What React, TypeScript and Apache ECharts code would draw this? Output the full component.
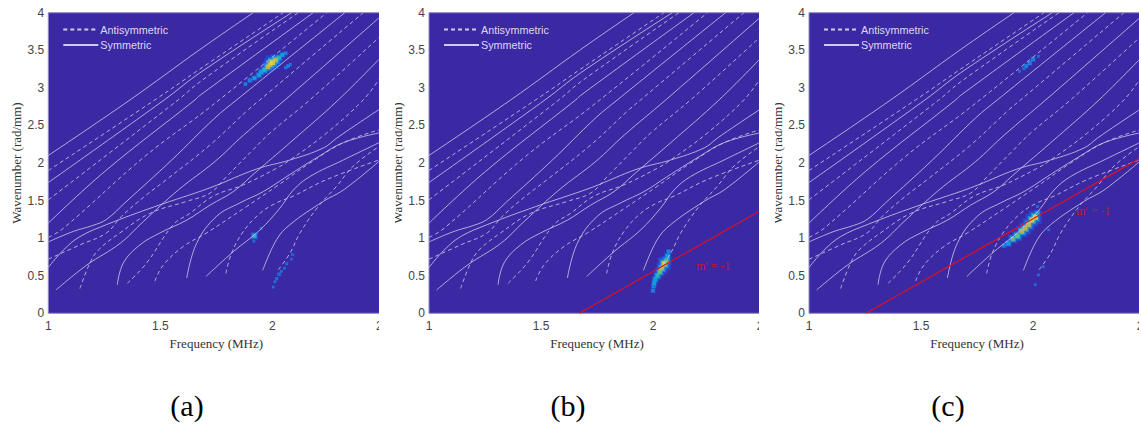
import React, { useEffect, useRef } from "react";
import * as echarts from "echarts";

// Symmetric modes: [frequency MHz, wavenumber rad/mm]
const symmetricModes: number[][][] = [
  [[1,2.1],[1.365,2.84],[1.677,3.51],[1.915,4]],
  [[1,1.74],[1.518,2.84],[1.677,3.2],[2.086,4]],
  [[1,1.2],[1.253,1.89],[1.655,2.84],[1.677,2.9],[2.183,4]],
  [[1,.95],[1.112,1.09],[1.2,1.17],[1.26,1.25],[1.342,1.47],[1.551,2.04],[1.744,2.6],[1.841,2.84],[2.324,4]],
  [[1,.61],[1.067,.84],[1.141,1.02],[1.26,1.18],[1.476,1.42],[1.722,1.67],[1.93,1.92],[2.079,2.04],[2.228,2.2],[2.287,2.33],[2.38,2.52],[2.476,2.71]],
  [[1.034,.31],[1.171,.64],[1.32,.93],[1.424,1.22],[1.58,1.64],[1.744,2.02],[1.871,2.37],[2.057,2.84],[2.476,3.93]],
  [[1.308,.38],[1.335,.67],[1.409,.91],[1.499,1.07],[1.618,1.24],[1.722,1.44],[1.826,1.62],[1.923,1.87],[2.079,2.27],[2.295,2.84],[2.476,3.38]],
  [[1.618,.47],[1.662,.93],[1.751,1.29],[1.856,1.47],[1.96,1.62],[2.064,1.82],[2.198,2.07],[2.317,2.27],[2.476,2.4]],
  [[1.704,.49],[1.826,.82],[1.945,1.11],[2.034,1.4],[2.094,1.64],[2.168,1.82],[2.317,2.04],[2.476,2.27]],
  [[1.957,.57],[2.019,.98],[2.079,1.18],[2.228,1.49],[2.317,1.64],[2.476,2.02]],
];

// Antisymmetric modes
const antisymmetricModes: number[][][] = [
  [[1,1.9],[1.476,2.84],[1.677,3.25],[2.049,4]],
  [[1,1.51],[1.58,2.84],[1.677,3.08],[2.116,4]],
  [[1,1.01],[1.067,1.13],[1.432,2.09],[1.729,2.76],[2.243,4]],
  [[1,.72],[1.141,.91],[1.26,1.07],[1.327,1.29],[1.432,1.56],[1.528,1.78],[1.722,2.24],[1.893,2.71],[1.945,2.84],[2.406,4]],
  [[1.141,.33],[1.186,.67],[1.223,.84],[1.32,1.07],[1.454,1.33],[1.618,1.49],[1.722,1.6],[1.796,1.82],[1.915,2.18],[1.99,2.4],[2.168,2.84],[2.476,3.67]],
  [[1.353,.4],[1.439,.67],[1.558,1.18],[1.632,1.33],[1.737,1.56],[1.871,1.71],[2.019,1.93],[2.079,2.04],[2.243,2.4],[2.406,2.84],[2.476,3.11]],
  [[1.476,.43],[1.513,.64],[1.603,.89],[1.707,1.07],[1.885,1.42],[2.019,1.69],[2.168,2],[2.317,2.27],[2.476,2.44]],
  [[1.793,.53],[1.818,.8],[1.871,1.09],[1.945,1.33],[2.019,1.47],[2.094,1.56],[2.243,1.78],[2.476,2.04]],
  [[2.027,.58],[2.079,.8],[2.124,1.07],[2.205,1.42],[2.287,1.69],[2.362,1.96],[2.476,2.22]],
];

// Energy spots: [frequency, wavenumber, relative intensity]
const spotsA: number[][] = [
  [1.88,3.05,.15],[1.9,3.1,.25],[1.92,3.13,.3],[1.94,3.17,.35],[1.95,3.21,.4],[1.965,3.24,.5],[1.98,3.28,.75],[1.99,3.31,.85],[2,3.34,1],[2.015,3.37,.8],[2.03,3.4,.45],[2.045,3.44,.3],[2.06,3.46,.15],
  [2.06,3.27,.1],[2.07,3.29,.15],[2.08,3.31,.1],
  [1.92,1.03,.45],[1.918,.96,.05],[1.95,1.13,.05],
  [2.004,.35,.05],[2.012,.42,.06],[2.02,.46,.1],[2.03,.52,.12],[2.04,.56,.06],[2.055,.6,.04],[2.065,.66,.05],[2.085,.72,.03],[2.09,.78,.03],
];
const spotsB: number[][] = [
  [2,.3,.2],[2.003,.36,.25],[2.005,.4,.3],[2.01,.45,.4],[2.02,.5,.5],[2.03,.55,.6],[2.04,.6,.75],[2.05,.66,.95],[2.06,.7,.65],[2.065,.76,.4],[2.07,.82,.25],
];
const spotsC: number[][] = [
  [1.87,.9,.2],[1.89,.93,.4],[1.91,.99,.6],[1.93,1.03,.7],[1.95,1.09,.8],[1.965,1.13,.8],[1.98,1.18,.85],[1.995,1.24,.9],[2.01,1.28,.95],[2.02,1.33,.4],[2.02,1.42,.05],
  [1.94,3.22,.05],[1.96,3.26,.12],[1.97,3.29,.2],[1.985,3.33,.25],[2,3.38,.25],[2.024,3.42,.05],
  [2.01,.38,.04],[2.024,.51,.05],[2.046,.62,.03],[2.07,1.11,.04],
];
const redLineB: number[][] = [[1.671,0],[2.5,1.4]];
const redLineC: number[][] = [[1.254,0],[2.5,2.1]];
const yTicks = ["0","0.5","1","1.5","2","2.5","3","3.5","4"];
const captions = ["(a)","(b)","(c)"];

const BG = "#3b29a3";
const LINE = "#d0cbea";
const palette = ["#2a50d8","#1778e0","#12a0d8","#25bfa8","#7fc468","#d8bc3c","#f8d828"];
const heat = (v: number) => palette[Math.min(palette.length - 1, Math.floor(v * palette.length))];

export default function App() {
  const ref = useRef<HTMLDivElement>(null);
  useEffect(() => {
    const chart = echarts.init(ref.current!, undefined, { renderer: "svg" });
    const lefts = [48.3, 429, 809];
    const spots = [spotsA, spotsB, spotsC];
    const reds = [null, redLineB, redLineC];
    const labelPos = [null, [696, 266], [1076, 211]];
    const covers = [[379, 395], [759, 775], [1139, 1141]];
    const capX = [187, 568, 948];
    const grid: any[] = [], xAxis: any[] = [], yAxis: any[] = [], legend: any[] = [], series: any[] = [], graphic: any[] = [];
    lefts.forEach((left, i) => {
      grid.push({ left, top: 12.7, width: 336, height: 300.6, show: true, backgroundColor: BG, borderColor: "#8f89c0", borderWidth: 1, outerBoundsMode: "none" });
      xAxis.push({
        gridIndex: i, type: "value", min: 1, max: 2.5, interval: 0.5,
        name: "Frequency (MHz)", nameLocation: "middle", nameGap: 20,
        nameTextStyle: { fontFamily: "Liberation Serif", fontSize: 13, color: "#333" },
        axisLine: { show: false }, axisTick: { show: false }, splitLine: { show: false },
        axisLabel: { fontFamily: "Liberation Sans", fontSize: 12, color: "#444", margin: 7, showMinLabel: true, showMaxLabel: true },
      });
      yAxis.push({
        gridIndex: i, type: "value", min: 0, max: 4, interval: 0.5,
        name: "Wavenumber (rad/mm)", nameLocation: "middle", nameGap: 25,
        nameTextStyle: { fontFamily: "Liberation Serif", fontSize: 13, color: "#333" },
        axisLine: { show: false }, axisTick: { show: false }, splitLine: { show: false },
        axisLabel: { fontFamily: "Liberation Sans", fontSize: 12, color: "#444", margin: 4,
          formatter: (v: number) => yTicks[Math.round(v * 2)] },
      });
      legend.push({
        data: ["Antisymmetric", "Symmetric"], orient: "vertical", left: left + 14, top: 24,
        itemWidth: 35, itemHeight: 10, itemGap: 4.5, padding: 0, selectedMode: false,
        itemStyle: { opacity: 0 },
        textStyle: { fontFamily: "Liberation Sans", fontSize: 10.8, color: "#dcd8f2", padding: [0,0,0,-3] },
      });
      series.push({
        type: "scatter", xAxisIndex: i, yAxisIndex: i, silent: true, z: 1, symbol: "rect",
        data: spots[i], symbolSize: (d: number[]) => 2.5 + d[2] * 11,
        itemStyle: { color: "#2450d8", opacity: 0.75 },
      });
      series.push({
        type: "scatter", xAxisIndex: i, yAxisIndex: i, silent: true, z: 1, symbol: "rect",
        data: spots[i], symbolSize: (d: number[]) => 2 + d[2] * 7,
        itemStyle: { color: "#18a0d8", opacity: 0.8 },
      });
      series.push({
        type: "scatter", xAxisIndex: i, yAxisIndex: i, silent: true, z: 1, symbol: "rect",
        data: spots[i], symbolSize: (d: number[]) => 1.5 + d[2] * 4,
        itemStyle: { color: (p: any) => heat(p.data[2]) },
      });
      antisymmetricModes.forEach((d) => series.push({
        name: "Antisymmetric", type: "line", xAxisIndex: i, yAxisIndex: i, data: d, smooth: 0.4, symbol: "none", silent: true, z: 2,
        lineStyle: { color: LINE, width: 0.8, type: [4, 3] }, itemStyle: { color: LINE },
      }));
      symmetricModes.forEach((d) => series.push({
        name: "Symmetric", type: "line", xAxisIndex: i, yAxisIndex: i, data: d, smooth: 0.4, symbol: "none", silent: true, z: 2,
        lineStyle: { color: LINE, width: 0.8 }, itemStyle: { color: LINE },
      }));
      if (reds[i]) series.push({
        type: "line", xAxisIndex: i, yAxisIndex: i, data: reds[i], symbol: "none", silent: true, z: 3,
        lineStyle: { color: "#e01020", width: 1.2 },
      });
      const lp = labelPos[i];
      if (lp) graphic.push({ type: "text", x: lp[0], y: lp[1], z: 20, style: { text: "m' = -1", fill: "#d01028", font: "12px 'Liberation Serif'", textVerticalAlign: "middle" } });
      graphic.push({ type: "rect", z: 100, shape: { x: covers[i][0], y: 0, width: covers[i][1] - covers[i][0], height: 335 }, style: { fill: "#fff" } });
      graphic.push({ type: "text", x: capX[i], y: 405, z: 101, style: { text: captions[i], fill: "#000", font: "30px 'Liberation Serif'", textAlign: "center", textVerticalAlign: "middle" } });
    });
    chart.setOption({ animation: false, backgroundColor: "#fff", grid, xAxis, yAxis, legend, series, graphic });
    return () => chart.dispose();
  }, []);
  return <div ref={ref} style={{ position: "absolute", left: 0, top: 0, width: 1141, height: 426 }} />;
}
